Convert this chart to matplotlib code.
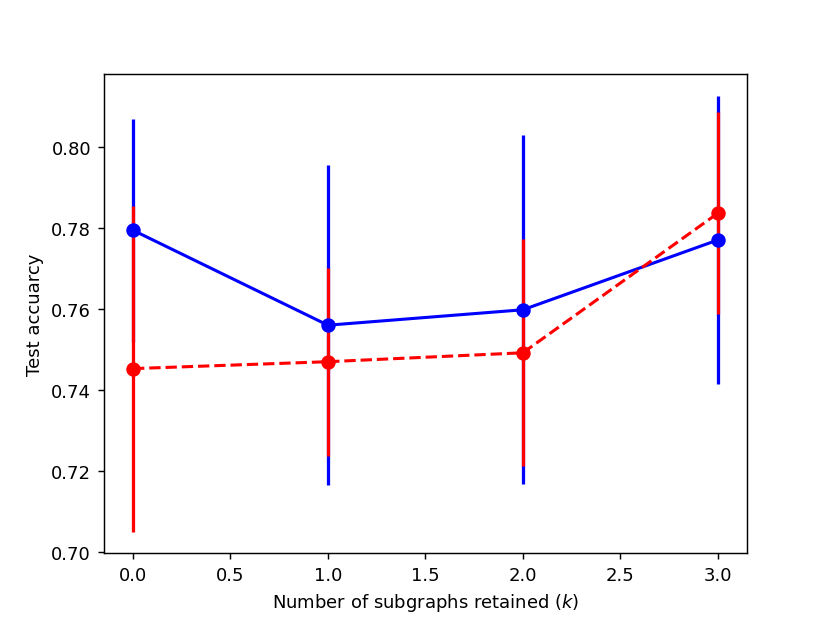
import matplotlib
matplotlib.use("Agg")
from matplotlib import pyplot as plt

k_values = [0, 1, 2, 3]

acc_blue = [0.7794, 0.7560, 0.7598, 0.7770]
err_blue = [0.0275, 0.0394, 0.0430, 0.0356]

acc_red = [0.7453, 0.7470, 0.7492, 0.7836]
err_red = [0.0402, 0.0232, 0.0280, 0.0249]

plt.figure(figsize=(6.385, 4.792), dpi=130)
plt.errorbar(k_values, acc_blue, yerr=err_blue, color='blue', marker='o',
             linestyle='-', linewidth=1.7, elinewidth=1.8, markersize=7)
plt.errorbar(k_values, acc_red, yerr=err_red, color='red', marker='o',
             linestyle='--', linewidth=1.7, elinewidth=1.8, markersize=7)
plt.xlabel(r'Number of subgraphs retained ($k$)')
plt.ylabel('Test accuarcy')
plt.savefig('out.png', dpi=130)
